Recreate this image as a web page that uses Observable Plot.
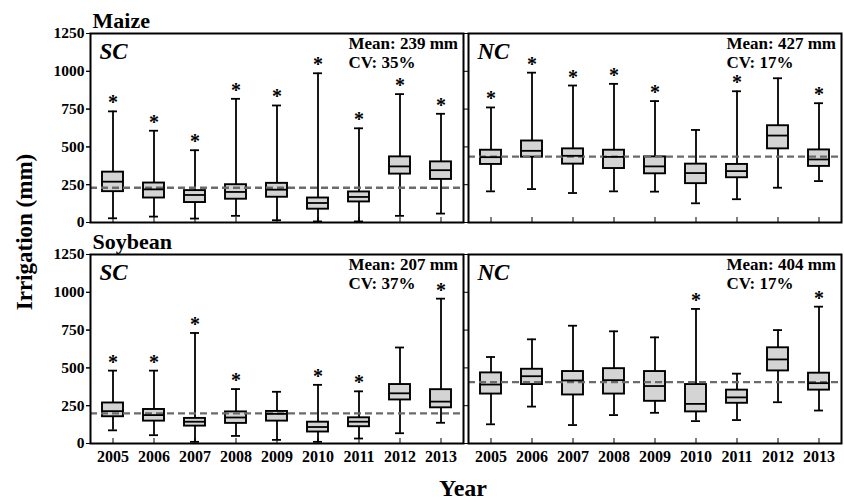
<!DOCTYPE html>
<html><head><meta charset="utf-8">
<script src="https://cdn.jsdelivr.net/npm/d3@7"></script>
<script src="https://cdn.jsdelivr.net/npm/@observablehq/plot@0.6"></script>
<style>body{margin:0;background:#fff}#chart{width:844px;height:502px}</style>
</head><body><div id="chart"></div>
<script>
// ---- data ----
const years = ["2005","2006","2007","2008","2009","2010","2011","2012","2013"];
const yTicks = [0, 250, 500, 750, 1000, 1250];
const crops = ["Maize", "Soybean"];
const regions = ["SC", "NC"];

// Maize SC
const maizeSCLow = [28, 39, 26, 44, 15, 7, 7, 44, 59];
const maizeSCQ1  = [204, 162, 132, 154, 167, 88, 136, 320, 285];
const maizeSCMed = [270, 219, 182, 202, 217, 129, 169, 371, 346];
const maizeSCQ3  = [333, 261, 211, 250, 259, 162, 202, 434, 401];
const maizeSCHigh= [735, 607, 478, 818, 774, 987, 623, 849, 719];
const maizeSCStar= [1, 1, 1, 1, 1, 1, 1, 1, 1];
// Maize NC
const maizeNCLow = [206, 221, 195, 206, 204, 127, 154, 230, 274];
const maizeNCQ1  = [384, 432, 386, 357, 322, 257, 296, 487, 371];
const maizeNCMed = [432, 474, 441, 434, 371, 327, 340, 575, 417];
const maizeNCQ3  = [478, 539, 487, 478, 434, 386, 384, 640, 480];
const maizeNCHigh= [761, 991, 906, 917, 803, 612, 868, 954, 789];
const maizeNCStar= [1, 1, 1, 1, 1, 0, 1, 0, 1];
// Soybean SC
const soySCLow = [87, 55, 11, 50, 24, 11, 33, 68, 137];
const soySCQ1  = [177, 148, 115, 133, 148, 76, 111, 288, 236];
const soySCMed = [214, 188, 144, 172, 196, 109, 144, 332, 277];
const soySCQ3  = [268, 225, 166, 209, 212, 141, 170, 390, 356];
const soySCHigh= [482, 482, 731, 360, 342, 388, 345, 635, 958];
const soySCStar= [1, 1, 1, 1, 0, 1, 1, 0, 1];
// Soybean NC
const soyNCLow = [127, 244, 122, 188, 203, 148, 155, 273, 218];
const soyNCQ1  = [327, 390, 321, 327, 279, 209, 266, 480, 353];
const soyNCMed = [390, 445, 417, 419, 380, 262, 305, 556, 399];
const soyNCQ3  = [467, 491, 476, 495, 476, 390, 353, 633, 465];
const soyNCHigh= [572, 689, 779, 742, 702, 890, 462, 750, 905];
const soyNCStar= [0, 0, 0, 0, 0, 1, 0, 0, 1];

// panel annotations
const panelCrop   = ["Maize", "Maize", "Soybean", "Soybean"];
const panelRegion = ["SC", "NC", "SC", "NC"];
const panelMean   = [239, 427, 207, 404];
const panelCV     = [35, 17, 37, 17];
const panelMeanLine = [230, 436, 199, 406];

// ---- build tables ----
const series = [
  [maizeSCLow, maizeSCQ1, maizeSCMed, maizeSCQ3, maizeSCHigh, maizeSCStar],
  [maizeNCLow, maizeNCQ1, maizeNCMed, maizeNCQ3, maizeNCHigh, maizeNCStar],
  [soySCLow, soySCQ1, soySCMed, soySCQ3, soySCHigh, soySCStar],
  [soyNCLow, soyNCQ1, soyNCMed, soyNCQ3, soyNCHigh, soyNCStar]
];
const rows = [];
series.forEach(([lo, q1, med, q3, hi, st], p) => {
  years.forEach((year, i) => rows.push({
    crop: panelCrop[p], region: panelRegion[p], year,
    lo: lo[i], q1: q1[i], med: med[i], q3: q3[i], hi: hi[i], star: st[i]
  }));
});
const panels = panelCrop.map((crop, p) => ({
  crop, region: panelRegion[p], mean: panelMean[p], cv: panelCV[p], line: panelMeanLine[p]
}));

const serif = "'Liberation Serif', 'Times New Roman', serif";
const F = {fx: "region", fy: "crop"};

const chart = Plot.plot({
  width: 844, height: 502,
  marginLeft: 90, marginRight: 2, marginTop: 32, marginBottom: 58,
  style: {fontFamily: serif, fontWeight: "bold", fontSize: "16px", background: "white", color: "black"},
  fx: {domain: regions, paddingInner: 0.013, paddingOuter: 0, axis: null, label: null},
  fy: {domain: crops, paddingInner: 0.144, paddingOuter: 0, axis: null, label: null},
  x: {domain: years, paddingInner: 0.5, paddingOuter: 0.25},
  y: {domain: [0, 1250]},
  marks: [
    // whiskers
    Plot.ruleX(rows, {...F, x: "year", y1: "lo", y2: "hi", stroke: "black", strokeWidth: 1.8}),
    // boxes
    Plot.barY(rows, {...F, x: "year", y1: "q1", y2: "q3", fill: "#d4d4d4", stroke: "black", strokeWidth: 1.9}),
    // mean dashed line
    Plot.ruleY(panels, {...F, y: "line", stroke: "#6b6b6b", strokeWidth: 2.4, strokeDasharray: "7,4"}),
    // medians
    Plot.tickY(rows, {...F, x: "year", y: "med", stroke: "black", strokeWidth: 1.8}),
    // whisker caps
    Plot.tickY(rows, {...F, x: "year", y: "lo", stroke: "black", strokeWidth: 1.8, inset: 6}),
    Plot.tickY(rows, {...F, x: "year", y: "hi", stroke: "black", strokeWidth: 1.8, inset: 6}),
    // significance asterisks
    Plot.text(rows.filter(d => d.star), {...F, x: "year", y: "hi", text: () => "*",
      lineAnchor: "bottom", dy: -2, fontSize: 20, fontWeight: "bold", fontFamily: serif}),
    // frame
    Plot.frame({stroke: "black", strokeWidth: 2}),
    // axes
    Plot.axisY({ticks: yTicks, tickFormat: d => String(d), tickSize: 4, tickPadding: 2, label: null,
      fontSize: 15.5, fontWeight: "bold"}),
    Plot.axisY({ticks: yTicks, tickSize: 4, text: null, label: null, facetAnchor: null}),
    Plot.axisX({tickSize: 0, tickPadding: 7, label: null, fontSize: 16, fontWeight: "bold"}),
    Plot.axisX({tickSize: -5, text: null, label: null, facetAnchor: null}),
    // panel labels
    Plot.text(panels, {...F, text: "region", frameAnchor: "top-left", lineAnchor: "bottom",
      dx: 9, dy: 25, fontSize: 23, fontStyle: "italic", fontWeight: "bold", fontFamily: serif}),
    Plot.text(panels, {...F, text: d => `Mean: ${d.mean} mm`, frameAnchor: "top-right", textAnchor: "start",
      lineAnchor: "bottom", dx: -115, dy: 15.5, fontSize: 17, fontWeight: "bold", fontFamily: serif}),
    Plot.text(panels, {...F, text: d => `CV: ${d.cv}%`, frameAnchor: "top-right", textAnchor: "start",
      lineAnchor: "bottom", dx: -115, dy: 34.5, fontSize: 17, fontWeight: "bold", fontFamily: serif}),
    Plot.text(panels.filter(d => d.region === "SC"), {...F, text: "crop", frameAnchor: "top-left",
      lineAnchor: "bottom", dx: 2, dy: -6, fontSize: 22, fontWeight: "bold", fontFamily: serif}),
    // global axis titles
    Plot.text(["Year"], {facet: "super", text: d => d, frameAnchor: "bottom", lineAnchor: "bottom",
      dx: -3, dy: 52, fontSize: 24, fontWeight: "bold", fontFamily: serif}),
    Plot.text(["Irrigation (mm)"], {facet: "super", text: d => d, frameAnchor: "left", textAnchor: "middle",
      rotate: -90, lineAnchor: "middle", dx: -66, dy: -6.5, fontSize: 23, fontWeight: "bold", fontFamily: serif})
  ]
});
document.getElementById("chart").append(chart);
</script>
</body></html>
